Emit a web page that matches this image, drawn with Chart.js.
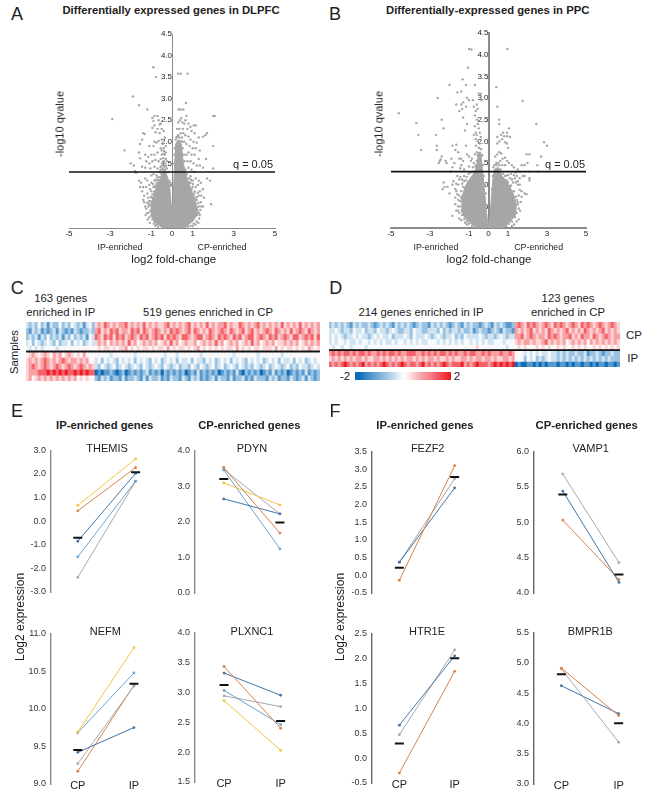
<!DOCTYPE html>
<html>
<head>
<meta charset="utf-8">
<script src="https://cdn.jsdelivr.net/npm/chart.js@4"></script>
<style>
  html, body { margin: 0; padding: 0; background: #fff; }
  #page { position: relative; width: 651px; height: 799px; overflow: hidden; font-family: "Liberation Sans", Arial, sans-serif; color: #222; }
  #page canvas { position: absolute; }
  .txt { position: absolute; white-space: nowrap; transform: translate(-50%, -50%); line-height: 1; }
  .rot { writing-mode: vertical-rl; transform: translate(-50%, -50%) rotate(180deg); }
</style>
</head>
<body>
<div id="page"></div>
<script>
// volcano plots: scattered genes
const dlpfcPoints = [
  [-0.9,3.73],[-0.78,3.5],[0.3,3.58],[0.43,3.58],[0.75,3.58],[-1.9,3.05],[-1.6,2.85],[-1.2,2.75],[-0.85,2.6],[-0.7,2.6],[-0.95,2.55],[-0.65,2.5],
  [-0.9,2.48],[-0.6,2.4],[-0.85,2.38],[-0.55,2.42],[-0.95,2.32],[-0.7,2.3],[-0.5,2.3],[-0.8,2.22],[-0.6,2.2],[-0.4,2.25],[-1.4,2.2],[-1.33,2.18],
  [-1.45,2.05],[-1.55,1.95],[-0.85,2.0],[-0.75,1.98],[-0.65,2.02],[-0.5,2.05],[-0.35,2.1],[-0.45,1.95],[-0.9,1.9],[-1.1,1.9],[-0.55,1.85],[-0.4,1.85],
  [-0.3,1.9],[-1.3,1.7],[-1.15,1.65],[-1,1.7],[-0.85,1.7],[-0.7,1.75],[-0.5,1.7],[-0.42,1.72],[-0.35,1.7],[-1.25,1.55],[-1.1,1.5],[-0.95,1.55],
  [-0.8,1.58],[-0.65,1.55],[-0.55,1.6],[-0.4,1.55],[-0.3,1.6],[-2.3,1.8],[-2.9,2.53],[-1.6,1.75],[-1.55,1.62],[-2,1.5],[-1.85,1.45],[-1.8,1.32],
  [-1.75,1.28],[-1.45,1.42],[-1.3,1.4],[-1.05,1.38],[-0.85,1.42],[-0.7,1.38],[-0.55,1.42],[-0.45,1.45],[-0.6,1.3],[-0.9,1.25],[-0.75,1.22],[-1,1.22],
  [0.68,2.9],[0.32,2.75],[0.42,2.75],[0.55,2.75],[2,2.6],[2.07,2.6],[0.7,2.6],[0.65,2.5],[0.45,2.55],[0.38,2.5],[0.5,2.45],[0.6,2.42],
  [0.8,2.42],[0.9,2.35],[1.05,2.38],[1.15,2.38],[0.75,2.3],[0.95,2.25],[1.1,2.2],[1.7,2.2],[1.62,2.15],[1.5,2.12],[1.3,2.1],[0.55,2.2],
  [0.65,2.15],[0.8,2.12],[0.9,2.05],[1.05,2],[1.2,1.98],[0.6,2.0],[0.7,1.95],[0.85,1.9],[1,1.85],[1.15,1.85],[2,1.9],[1.35,1.8],
  [1.65,1.6],[1.3,1.6],[1.1,1.7],[0.95,1.7],[0.8,1.75],[0.7,1.7],[0.75,1.55],[0.9,1.55],[1.05,1.5],[1.2,1.45],[1.35,1.45],[1.5,1.4],
  [2.0,1.38],[0.8,1.4],[0.95,1.35],[1.1,1.3],[0.35,2.3],[0.42,2.2],[0.3,2.15],[0.25,2.3],[0.3,2.45],[0.22,2.1],[0.48,2.1],[0.52,2.3],
  [-1.6,1.1],[-1.5,1.05],[-1.55,0.95],[-1.4,0.95],[-1.45,0.85],[-1.3,1.15],[-1.2,1.1],[-1.25,0.95],[-1.35,0.75],[-1.2,0.8],[-1.1,1],[-1.15,0.7],
  [-1,1.05],[-1,0.85],[-1.4,0.65],[-1.1,0.55],[-1.35,0.6],[-0.85,1.1],[-0.75,1.05],[-0.95,0.7],[-0.85,0.85],[-0.7,0.95],[-1.05,0.4],[-1.15,0.35],
  [0.9,1.2],[1,1.1],[1.15,1.15],[1.3,1.1],[1.4,1.05],[1.25,1],[1.15,0.95],[1.35,0.85],[1.3,0.75],[1.1,0.85],[1.05,0.75],[1.2,0.65],
  [1.4,0.6],[1.7,1.15],[1.85,1.1],[1.9,0.55],[1.3,0.35],[1.22,0.3],[1.25,0.4],[1.1,0.5],[1.35,0.3],[0.85,1.05],[0.95,0.9],[1.15,0.45],
  [-0.75,0.08],[-0.85,0.15],[-0.95,0.2],[-1.1,0.25],[-1.2,0.35],[-1.15,0.5],[-1.05,0.62],[-0.95,0.78],[-0.85,0.82],[-0.8,0.98],[-0.72,1.0],[-0.68,1.12],
  [-0.6,1.18],[-0.52,1.25],[-0.45,1.38],[-0.35,1.42],[-0.25,1.38],[-0.18,1.3],[-0.12,1.1],[-0.08,1.0],[0.62,0.02],[0.78,0.03],[0.9,0.05],[1.05,0.1],
  [1.2,0.15],[1.32,0.22],[1.3,0.5],[1.28,0.58],[1.2,0.72],[1.08,0.8],[1,0.95],[0.9,1.05],[0.82,1.15],[0.72,1.25],[0.65,1.35],[0.6,1.55],
  [0.58,1.7],[0.52,1.85],[0.5,2.0],[0.12,1.7],[0.14,1.85],[0.1,1.5],[0.18,2.05],[0.25,2.12],[0.35,2.1],[0.42,2.02],[-0.55,1.35],[-0.48,1.5],
  [-0.42,1.62],[-0.35,1.5],[-0.28,1.45],[-0.25,1.55],[-0.5,1.8],[-0.38,1.78],[-0.3,1.75],[-0.44,1.35],[-0.34,1.35],
  [-1.25,0.45],[-1.3,0.5],[-1.2,0.58],[-1.28,0.3],[-1.18,0.2],[-1.08,0.12],[-1.02,0.72],[-1.12,0.62],[-1.06,0.9],[-0.9,0.95],[-0.92,1.02],[-0.82,0.95],
  [-0.78,1.12],[-0.66,1.05],[-0.62,1.1],[-0.7,1.18],[-0.95,0.3],[-0.88,0.1],[-0.8,0.05],[-0.68,0.02],[1.38,0.42],[1.42,0.5],[1.28,0.12],[1.15,0.08],
  [1.0,0.04],[1.25,0.82],[1.12,0.68],[1.02,1.02],[0.92,1.12],[0.78,1.05],[1.42,0.75],[1.5,0.9],[1.55,0.7],[1.5,0.5]
];
const ppcPoints = [
  [-1,4.13],[-0.88,4.12],[0.97,4.13],[-1.05,3.7],[-1.33,3.43],[-2,3.3],[-0.7,3.3],[-1.15,3.3],[-1.4,3.15],[-1.6,3.13],[0.4,3.25],[1.75,2.93],
  [-2.6,3],[-4.6,2.65],[-3.7,2.42],[-3.6,2.15],[-3.45,1.8],[-2.7,2.15],[-2.65,1.9],[-2.65,1.8],[-2.4,2.5],[-2.3,2.3],[2.45,2.4],[2.85,1.98],
  [3,1.9],[2.7,1.65],[-1.1,3],[-1.3,2.9],[-1,2.95],[-0.8,2.95],[-0.6,2.85],[-0.5,3.1],[-0.4,3.1],[-0.35,2.95],[-1.65,2.85],[-1.4,2.85],
  [-1.5,2.7],[-1.35,2.75],[-1.15,2.8],[-0.75,2.8],[-0.65,2.7],[-0.55,2.75],[0.45,2.8],[0.55,2.5],[0.55,2.4],[-1.3,2.55],[-1.1,2.4],[-0.7,2.6],
  [-0.6,2.5],[-0.55,2.4],[-0.7,2.35],[-0.5,2.3],[-0.65,2.2],[-0.75,2.15],[-0.6,2.15],[-1.2,2.25],[-0.45,2.2],[-0.4,2.1],[1.05,2.3],[0.95,2.2],
  [0.75,2.2],[0.65,2.15],[0.8,2.12],[0.95,2.12],[1.1,2.1],[0.45,2.1],[0.55,2.0],[0.7,2.05],[0.85,1.98],[0.95,1.95],[1,1.85],[0.45,1.95],
  [-0.65,2.05],[-0.55,2],[-0.45,1.95],[-0.65,1.9],[-0.5,1.85],[-1.15,1.9],[-1.65,1.92],[-1.85,1.9],[-1.7,1.8],[-1.55,1.75],[-2.4,1.65],[-2.45,1.58],
  [-2.5,1.55],[-2.55,1.5],[-2.2,1.55],[-2.15,1.5],[-1.9,1.6],[-1.75,1.5],[-1.5,1.6],[-1.4,1.6],[-1.3,1.55],[-1.4,1.45],[-1.45,1.38],[-1.85,1.4],
  [-1.95,1.3],[-1.25,1.35],[-1.1,1.7],[-1,1.65],[-0.85,1.6],[-0.7,1.7],[-0.6,1.75],[-0.5,1.72],[-0.75,1.5],[-0.9,1.55],[-1,1.42],[-0.8,1.4],
  [-0.65,1.45],[0.35,1.65],[0.45,1.7],[0.55,1.75],[0.65,1.72],[0.72,1.6],[0.85,1.62],[0.95,1.55],[1.05,1.5],[1.2,1.45],[1.3,1.4],[0.85,1.45],
  [0.7,1.45],[0.6,1.55],[0.55,1.45],[0.4,1.45],[1.5,1.35],[1.6,1.3],[1.4,1.28],[1.7,1.45],[1.95,1.7],[2.1,1.7],[2,1.5],[1.85,1.45],
  [2.5,1.45],[2.55,1.3],[2.1,1.3],[2.1,1.15],[2.1,1.1],[1.85,1.2],[1.75,1.2],[1.6,1.15],[1.45,1.2],[1.3,1.22],[1.15,1.25],[1,1.22],
  [-2.3,1.05],[-2.25,0.95],[-2.35,0.9],[-2.1,0.95],[-2.0,0.8],[-1.85,1],[-1.8,1.08],[-1.7,0.9],[-1.65,0.85],[-1.55,1],[-1.45,1.18],[-1.6,1.2],
  [-1.35,1.12],[-1.25,1.2],[-1.15,1.1],[-1.3,0.95],[-1.4,0.85],[-1.5,0.75],[-1.7,0.7],[-1.55,0.65],[-1.4,0.7],[-1.25,0.65],[-1.05,1],[-1.15,0.85],
  [-1.85,0.28],[-1.55,0.4],[-1.45,0.5],[-1.35,0.4],[-1.3,0.55],[1.6,1],[1.5,1],[1.4,1.05],[1.7,0.85],[1.85,0.8],[1.95,0.78],[1.55,0.75],
  [1.3,0.85],[1.45,0.65],[1.25,0.65],[1.5,0.55],[1.35,0.5],[1.2,0.8],[1.1,0.95],[1.3,0.42],[1.15,0.5],[0.95,1.1],[1.25,1.05],[1.05,0.3],
  [-1,0.1],[-1.1,0.15],[-1.25,0.2],[-1.35,0.3],[-1.5,0.35],[-1.55,0.5],[-1.45,0.62],[-1.35,0.72],[-1.2,0.92],[-1.05,1.05],[-0.95,1.1],[-0.85,1.15],
  [-0.75,1.2],[-0.7,1.3],[-0.65,1.42],[-0.6,1.55],[-0.55,1.68],[-0.48,1.85],[-0.38,1.82],[-0.32,1.68],[-0.28,1.45],[-0.24,1.2],[-0.18,1],[-0.14,0.8],
  [0.18,0.9],[0.22,1.2],[0.25,1.4],[0.3,1.45],[0.4,1.5],[0.5,1.5],[0.62,1.35],[0.75,1.25],[0.85,1.2],[1,1.05],[1.15,0.98],[1.28,0.85],
  [1.4,0.72],[1.5,0.6],[1.55,0.45],[1.45,0.35],[1.35,0.25],[1.2,0.15],[1.05,0.1],[0.9,0.04],[0.75,0.03],[-0.85,0.05],[-0.7,0.02],
  [-1.65,0.4],[-1.7,0.55],[-1.6,0.78],[-1.65,1.02],[-1.5,1.12],[-1.35,1.02],[-1.25,1.08],[-1.12,1.18],[-1.02,1.25],[-0.92,1.28],[-0.82,1.3],[-1.2,0.12],
  [-1.1,0.08],[-1.4,0.18],[-1.5,0.22],[1.55,0.2],[1.45,0.15],[1.62,0.4],[1.65,0.6],[1.7,0.72],[1.6,0.88],[1.5,1.08],[1.35,1.15],[1.2,1.12],
  [1.1,1.15],[0.95,1.22],[1.32,0.08],[1.2,0.05]
];
// the part of each cloud too dense to tell genes apart: its top and bottom edge
const dlpfcCoreX = [-1.05,-0.9,-0.75,-0.6,-0.45,-0.3,-0.2,-0.1,-0.03,0,0.05,0.12,0.18,0.3,0.45,0.55,0.7,0.85,1,1.15,1.25];
const dlpfcCoreTop = [0.5,0.75,0.95,1.1,1.3,1.3,1.15,0.9,0.5,0.1,0.7,1.4,1.95,2.05,1.95,1.5,1.2,1,0.8,0.6,0.45];
const dlpfcCoreBottom = [0.3,0.2,0.1,0.05,0,0,0,0,0,0,0,0,0,0,0,0,0.03,0.1,0.15,0.25,0.35];
const ppcCoreX = [-1.4,-1.2,-1,-0.85,-0.7,-0.6,-0.5,-0.4,-0.3,-0.2,-0.1,-0.03,0.02,0.08,0.15,0.22,0.3,0.5,0.7,0.9,1.1,1.3,1.45];
const ppcCoreTop = [0.65,0.95,1.1,1.2,1.3,1.45,1.75,1.75,1.3,0.85,0.35,0.1,0.1,0.3,0.7,1.1,1.35,1.4,1.2,1.1,0.95,0.75,0.5];
const ppcCoreBottom = [0.4,0.22,0.15,0.08,0.03,0,0,0,0,0,0,0,0,0,0,0,0,0,0,0.05,0.15,0.25,0.35];
const foldTicks = [-5, -3, -1, 0, 1, 3, 5];
const fdrLine = 1.3;

// heatmaps: one string per sample, digit 0 = deep blue, 9 = deep red
const heatC = [
  '3232423132 2423243231 342 6768767677 8676768676 7667867676 7867676867 6778676687 6767867676 7686767686 76767',
  '2132312123 1321213212 232 7867687867 7687868767 8767687876 7868767687 6787687678 6786767876 8767686787 68767',
  '2323132423 2313242323 143 8768786878 6787687867 8786878768 8767886787 6878768786 7886787687 8678768867 87868',
  '3424323432 4233424342 343 6767576767 6867567676 7567686756 7667567676 8675676756 7686756767 5667676756 76767',
  '4343534445 3544454555 544 5656656566 7565656656 5665756566 5656756565 6565665756 5656656665 7565665656 57656',
  '5676567657 6756765657 545 4544434544 4543454445 4543544345 4454534454 4554443454 5445344544 5434454455 44454',
  '6767678767 6787677676 755 3424343243 4342434324 3423434243 3424332434 2343424343 2434342343 4243342434 23434',
  '6787678767 8767876787 676 3243234234 3234324323 4324323423 3243243234 2342343243 2324323423 4323423243 32343',
  '6777888989 8989889898 988 0101121012 0121212312 1202121212 0121312121 2012121310 2121201213 1212012121 31212',
  '6756767676 7676767565 654 2132312213 1223213132 2312132213 2132312123 1322131223 1213222132 3122132123 13212'
];
const heatD = [
  '2323232132 3223212323 2132323212 3221323232 1232132322 1232132321 12 7876878767 8768787678 7687876787 67876',
  '3343233243 3423324332 3432233243 3223332423 2332322312 3221232132 21 7676786767 6876767867 6768767678 67676',
  '3434323343 4332343433 4233343243 3343234323 3423243333 4323323432 33 7786787677 6878767786 7687768767 87677',
  '3434434334 3443434343 3434434343 4334443434 3434344343 4343344434 44 6767767667 8676767567 6767576767 67676',
  '4344345344 4534444544 5445454545 5445455454 5455445546 5544454443 54 5656545656 5655656556 5656456565 65656',
  '7878788787 8878778787 8878778887 7878787887 8787787887 7878777877 87 5453434343 3433232322 3223122321 22322',
  '6767676767 7676677676 7676767767 6767767667 6766776767 7677676677 67 5442434232 3433232323 2323232323 23222',
  '8787898787 8978787898 7878987887 8978787898 7888978789 8887898989 89 0100110101 0111011010 1101101011 01101'
];
const colorbarValues = [-2,-2,-1.9,-1.8,-1.7,-1.6,-1.5,-1.4,-1.3,-1.2,-1.1,-1,-0.85,-0.7,-0.5,-0.3,0.05,0.3,0.5,0.7,0.85,1,1.1,1.2,1.3,1.4,1.5,1.6,1.7,1.8,1.9,2];

// paired expression panels, [CP, IP] for each sample
const sampleLabels = ['CP', 'IP'];
const colYellow = '#f0c545', colOrange = '#d98248', colDark = '#4376a8', colLight = '#6aa3cf', colGray = '#a9a9a9';
const themis = [[colYellow,0.67,2.64],[colOrange,0.44,2.27],[colDark,-0.85,2.03],[colLight,-1.51,1.7],[colGray,-2.38,1.69]];
const themisMean = [-0.7, 2.07];
const pdyn = [[colOrange,3.52,1.68],[colYellow,3.09,2.47],[colDark,2.64,2.22],[colLight,3.45,1.24],[colGray,3.47,2.22]];
const pdynMean = [3.2, 1.98];
const nefm = [[colYellow,9.69,10.81],[colLight,9.68,10.475],[colDark,9.42,9.75],[colGray,9.27,10.3],[colOrange,9.17,10.31]];
const nefmMean = [9.45, 10.33];
const plxnc1 = [[colOrange,3.43,2.4],[colDark,3.32,2.95],[colLight,3.03,2.46],[colGray,2.94,2.76],[colYellow,2.86,2.03]];
const plxnc1Mean = [3.12, 2.52];
const fezf2 = [[colOrange,-0.14,3.1],[colDark,0.37,2.47],[colGray,0.37,2.73]];
const fezf2Mean = [0.21, 2.78];
const vamp1 = [[colGray,5.68,4.43],[colDark,5.44,4.15],[colOrange,5.03,4.19]];
const vamp1Mean = [5.39, 4.26];
const htr1e = [[colDark,0.66,2.05],[colGray,0.47,2.17],[colOrange,-0.3,1.74]];
const htr1eMean = [0.29, 2.0];
const bmpr1b = [[colOrange,4.91,4.13],[colGray,4.9,3.69],[colDark,4.62,4.16]];
const bmpr1bMean = [4.81, 4.0];

const page = document.getElementById('page');
Chart.defaults.font.family = '"Liberation Sans", Arial, sans-serif';
Chart.defaults.animation = false;
Chart.defaults.responsive = false;
Chart.defaults.plugins.legend.display = false;
Chart.defaults.plugins.tooltip.enabled = false;

function addCanvas(left, top, width, height) {
  const c = document.createElement('canvas');
  c.width = width;
  c.height = height;
  c.style.left = left + 'px';
  c.style.top = top + 'px';
  page.appendChild(c);
  return c;
}

function text(str, x, y, size, opts) {
  opts = opts || {};
  const d = document.createElement('div');
  d.className = 'txt' + (opts.rot ? ' rot' : '');
  d.textContent = str;
  d.style.left = x + 'px';
  d.style.top = y + 'px';
  d.style.fontSize = size + 'px';
  if (opts.bold) d.style.fontWeight = 'bold';
  page.appendChild(d);
}

function volcano(box, points, coreX, coreTop, coreBottom, axisWidth) {
  const pad = 10;
  const canvas = addCanvas(box.x0 - pad, box.y0 - pad, box.x1 - box.x0 + 2 * pad, box.y1 - box.y0 + pad + 16);
  new Chart(canvas, {
    type: 'scatter',
    data: {
      datasets: [
        { data: [{ x: -5, y: fdrLine }, { x: 5, y: fdrLine }], showLine: true, borderColor: '#111', borderWidth: 1.6, pointRadius: 0 },
        { data: points.map(p => ({ x: p[0], y: p[1] })), backgroundColor: '#a6a6a6', pointRadius: 1.2, borderWidth: 0 },
        { data: coreX.map((x, i) => ({ x: x, y: coreTop[i] })), showLine: true, fill: '+1', backgroundColor: '#a6a6a6', borderColor: '#a6a6a6', borderWidth: 1, pointRadius: 0 },
        { data: coreX.map((x, i) => ({ x: x, y: coreBottom[i] })), showLine: true, borderColor: '#a6a6a6', borderWidth: 1, pointRadius: 0 }
      ]
    },
    options: {
      layout: { padding: { left: pad, right: pad, top: pad, bottom: 0 } },
      scales: {
        x: {
          type: 'linear', min: -5, max: 5,
          grid: { display: false, drawTicks: false },
          border: { color: '#8c8c8c', width: axisWidth },
          afterBuildTicks: s => { s.ticks = foldTicks.map(v => ({ value: v })); },
          afterFit: s => { s.height = 16; },
          ticks: { font: { size: 8 }, color: '#222', padding: 1, maxRotation: 0, autoSkip: false, callback: v => String(v) }
        },
        y: {
          type: 'linear', min: 0, max: 4.5, position: { x: 0 }, z: 1,
          grid: { display: false, drawTicks: false },
          border: { color: '#8c8c8c', width: axisWidth },
          ticks: { stepSize: 0.5, font: { size: 8 }, color: '#222', padding: 1, callback: v => v === 0 ? '' : v.toFixed(1) }
        }
      }
    }
  });
}

function heatColor(v) {
  const t = Math.pow(Math.min(1, Math.abs(v) / 2), 1.5);
  const end = v < 0 ? [11, 108, 184] : [238, 28, 37];
  const c = end.map(e => Math.round(255 + (e - 255) * t));
  return 'rgb(' + c.join(',') + ')';
}

function heatmap(left, top, width, height, rows, dividerRow) {
  const grid = rows.map(r => r.replace(/ /g, '').split('').map(d => (Number(d) - 4.5) / 2.25));
  const labels = grid[0].map((_, i) => i);
  const datasets = [{ data: labels.map(() => [dividerRow - 0.1, dividerRow + 0.1]), backgroundColor: '#111' }];
  grid.forEach((row, r) => {
    datasets.push({ data: row.map(() => [r, r + 1]), backgroundColor: row.map(heatColor) });
  });
  new Chart(addCanvas(left, top, width, height), {
    type: 'bar',
    data: { labels: labels, datasets: datasets },
    options: {
      layout: { padding: 0 },
      datasets: { bar: { barPercentage: 1, categoryPercentage: 1, grouped: false, borderWidth: 0 } },
      scales: {
        x: { display: false },
        y: { display: false, min: 0, max: grid.length, reverse: true }
      }
    }
  });
}

function colorbar(left, top, width, height) {
  const labels = colorbarValues.map((_, i) => i);
  new Chart(addCanvas(left, top, width, height), {
    type: 'bar',
    data: { labels: labels, datasets: [{ data: colorbarValues.map(() => 1), backgroundColor: colorbarValues.map(heatColor) }] },
    options: {
      datasets: { bar: { barPercentage: 1, categoryPercentage: 1, borderWidth: 0 } },
      scales: { x: { display: false }, y: { display: false, min: 0, max: 1 } }
    }
  });
}

function pairPanel(box, samples, mean, yMin, yMax, step, axisColor, showLabels) {
  const marginL = 40, marginR = 6, marginT = 8, marginB = showLabels ? 14 : 8;
  const plotW = box.right - box.axis;
  const unit = box.ip - box.cp;
  const canvas = addCanvas(box.axis - marginL, box.top - marginT, marginL + plotW + marginR, box.bottom - box.top + marginT + marginB);
  const datasets = [{
    data: mean.map((v, i) => ({ x: i, y: v })), pointStyle: 'line', pointRadius: 4.5,
    pointBorderColor: '#111', pointBorderWidth: 2, showLine: false
  }];
  samples.forEach(s => {
    datasets.push({
      data: [{ x: 0, y: s[1] }, { x: 1, y: s[2] }], showLine: true, borderColor: s[0], borderWidth: 1,
      backgroundColor: s[0], pointRadius: 1.4, pointBorderWidth: 0
    });
  });
  const xMin = -(box.cp - box.axis) / unit;
  new Chart(canvas, {
    type: 'scatter',
    data: { datasets: datasets },
    options: {
      layout: { padding: { top: marginT, right: marginR, bottom: showLabels ? 0 : marginB, left: 0 } },
      scales: {
        x: {
          type: 'linear', min: xMin, max: xMin + plotW / unit, display: showLabels,
          grid: { display: false, drawTicks: false }, border: { display: false },
          afterBuildTicks: s => { s.ticks = sampleLabels.map((_, i) => ({ value: i })); },
          afterFit: s => { s.height = marginB; },
          // mirror keeps the label from being clipped at the axis box, it sits level with the last y tick
          ticks: { mirror: true, font: { size: 11 }, color: '#222', padding: -9, maxRotation: 0, autoSkip: false, callback: v => sampleLabels[v] }
        },
        y: {
          type: 'linear', min: yMin, max: yMax,
          grid: { display: false, drawTicks: false },
          border: { color: axisColor, width: 1.4 },
          afterFit: s => { s.width = marginL; },
          ticks: { stepSize: step, font: { size: 9 }, color: '#333', padding: 5, callback: v => v.toFixed(1) }
        }
      }
    }
  });
}

// panel A, B
volcano({ x0: 68.5, x1: 275, y0: 34, y1: 228.7 }, dlpfcPoints, dlpfcCoreX, dlpfcCoreTop, dlpfcCoreBottom, 1);
volcano({ x0: 390.7, x1: 586, y0: 32.7, y1: 228.3 }, ppcPoints, ppcCoreX, ppcCoreTop, ppcCoreBottom, 2);
text('A', 17, 14, 18);
text('Differentially expressed genes in DLPFC', 171, 10.7, 11.3, { bold: true });
text('-log10 qvalue', 60, 124, 11, { rot: true });
text('q = 0.05', 253, 164, 11);
text('IP-enriched', 120, 246.7, 8.8);
text('CP-enriched', 222, 246.7, 8.8);
text('log2 fold-change', 173.7, 260, 11.5);
text('B', 335, 14, 18);
text('Differentially-expressed genes in PPC', 487.7, 10.7, 11.3, { bold: true });
text('-log10 qvalue', 379.3, 124, 11, { rot: true });
text('q = 0.05', 565, 164, 11);
text('IP-enriched', 436, 246.7, 8.8);
text('CP-enriched', 538.7, 246.7, 8.8);
text('log2 fold-change', 489, 260, 11.5);

// panel C, D
heatmap(26, 322, 294, 59, heatC, 5);
heatmap(329, 322, 291, 45, heatD, 5);
colorbar(355, 372, 96, 8);
text('C', 17.3, 288, 18);
text('163 genes', 60.7, 299, 11.3);
text('enriched in IP', 60.7, 312.7, 11.3);
text('519 genes enriched in CP', 208, 312.7, 11.3);
text('Samples', 14.7, 351.7, 11.3, { rot: true });
text('D', 335.7, 288, 18);
text('214 genes enriched in IP', 421, 312.7, 11.3);
text('123 genes', 568, 299, 11.3);
text('enriched in CP', 568, 312.7, 11.3);
text('CP', 634, 336, 11.5);
text('IP', 632.7, 359, 11.5);
text('-2', 345, 377, 11.5);
text('2', 457, 377, 11.5);

// panel E, F
pairPanel({ axis: 50.7, right: 150, top: 447.7, bottom: 600, cp: 77.7, ip: 136 }, themis, themisMean, -3, 3, 1, '#8a8a8a', false);
pairPanel({ axis: 194.7, right: 295, top: 448, bottom: 601, cp: 223.7, ip: 280.3 }, pdyn, pdynMean, 0, 4, 1, '#8a8a8a', false);
pairPanel({ axis: 50.7, right: 150, top: 630.7, bottom: 784.3, cp: 77.7, ip: 134.3 }, nefm, nefmMean, 9, 11, 0.5, '#8a8a8a', true);
pairPanel({ axis: 194.7, right: 295, top: 630, bottom: 782.3, cp: 224, ip: 281 }, plxnc1, plxnc1Mean, 1.5, 4, 0.5, '#8a8a8a', true);
pairPanel({ axis: 372.3, right: 470, top: 449, bottom: 601, cp: 400, ip: 456 }, fezf2, fezf2Mean, -0.5, 3.5, 0.5, '#666', false);
pairPanel({ axis: 533.7, right: 635, top: 449, bottom: 601.7, cp: 562.7, ip: 619.3 }, vamp1, vamp1Mean, 4, 6, 0.5, '#666', false);
pairPanel({ axis: 372.3, right: 470, top: 630.7, bottom: 783, cp: 400, ip: 456 }, htr1e, htr1eMean, -0.5, 2.5, 0.5, '#666', true);
pairPanel({ axis: 533.7, right: 635, top: 630, bottom: 784.3, cp: 561.3, ip: 619 }, bmpr1b, bmpr1bMean, 3, 5.5, 0.5, '#666', true);
text('E', 17, 410.7, 18);
text('IP-enriched genes', 104.7, 425.7, 11.3, { bold: true });
text('CP-enriched genes', 249.3, 425.7, 11.3, { bold: true });
text('THEMIS', 107, 447.7, 11);
text('PDYN', 252, 447.7, 11);
text('NEFM', 105.3, 630.7, 11);
text('PLXNC1', 252, 630.7, 11);
text('Log2 expression', 20, 617, 12, { rot: true });
text('F', 335, 410.7, 18);
text('IP-enriched genes', 425, 425.7, 11.3, { bold: true });
text('CP-enriched genes', 586.7, 425.7, 11.3, { bold: true });
text('FEZF2', 427.7, 447.7, 11);
text('VAMP1', 590.7, 447.7, 11);
text('HTR1E', 427, 630.7, 11);
text('BMPR1B', 590.3, 630.7, 11);
text('Log2 expression', 340, 617, 12, { rot: true });
</script>
</body>
</html>
